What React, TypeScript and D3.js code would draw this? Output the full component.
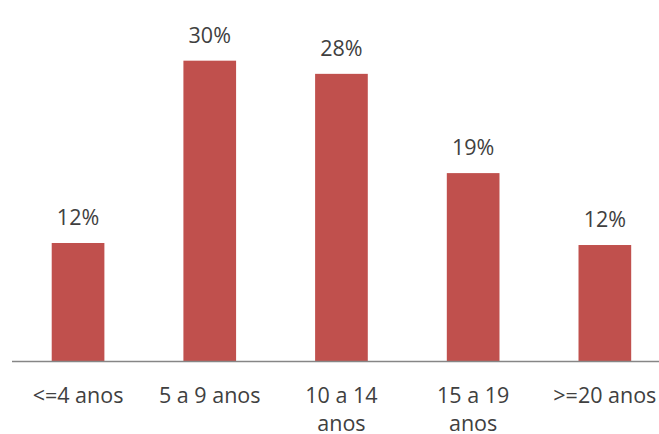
import * as d3 from "d3";

const categories = ["<=4 anos", "5 a 9 anos", "10 a 14\nanos", "15 a 19\nanos", ">=20 anos"];
const values = [11.7, 29.7, 28.4, 18.6, 11.5];
const valueLabels = ["12%", "30%", "28%", "19%", "12%"];

const width = 659;
const height = 434;
const baseline = 361.5;

export default function App() {
  const x = d3
    .scaleBand<string>()
    .domain(categories)
    .range([12.2, 670.7])
    .paddingInner(0.6)
    .paddingOuter(0.3);

  // about 10.13 px per percentage point
  const y = d3.scaleLinear().domain([0, 35]).range([baseline, baseline - 354.5]);

  const font = "'Open Sans', 'Liberation Sans', sans-serif";
  const textColor = "#404040";

  return (
    <svg
      width={width}
      height={height}
      style={{ position: "absolute", left: 0, top: 0, background: "#fff" }}
    >
      {/* bars */}
      {categories.map((c, i) => (
        <rect
          key={c}
          x={x(c)}
          y={y(values[i])}
          width={x.bandwidth()}
          height={baseline - y(values[i])}
          fill="#C0504D"
        />
      ))}

      {/* axis line */}
      <line x1={12} x2={width} y1={baseline} y2={baseline} stroke="#868686" strokeWidth={1.5} />

      {/* value labels */}
      {categories.map((c, i) => (
        <text
          key={c + "-v"}
          x={(x(c) ?? 0) + x.bandwidth() / 2}
          y={y(values[i]) - 18}
          textAnchor="middle"
          fontFamily={font}
          fontSize={21.5}
          fill={textColor}
        >
          {valueLabels[i]}
        </text>
      ))}

      {/* category labels */}
      {categories.map((c) => (
        <text
          key={c + "-c"}
          x={(x(c) ?? 0) + x.bandwidth() / 2}
          y={baseline + 41}
          textAnchor="middle"
          fontFamily={font}
          fontSize={21.5}
          fill={textColor}
        >
          {c.split("\n").map((line, j) => (
            <tspan key={j} x={(x(c) ?? 0) + x.bandwidth() / 2} dy={j === 0 ? 0 : 28.5}>
              {line}
            </tspan>
          ))}
        </text>
      ))}
    </svg>
  );
}
